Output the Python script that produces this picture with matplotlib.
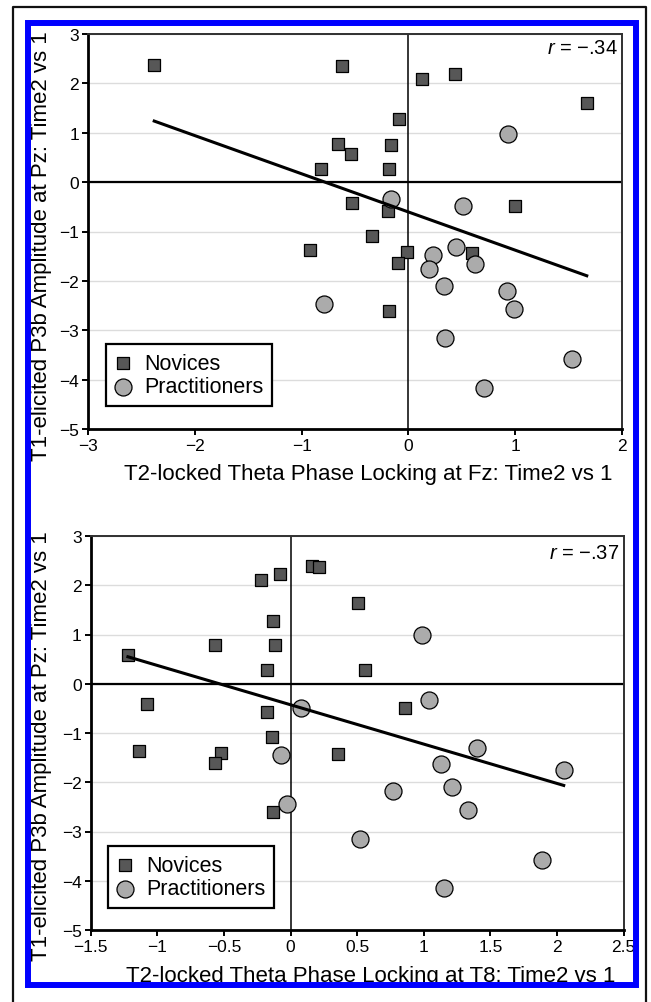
import numpy as np
import matplotlib
matplotlib.use('Agg')
import matplotlib.pyplot as plt
from matplotlib.patches import Rectangle
from matplotlib.lines import Line2D
from matplotlib.ticker import FuncFormatter, MultipleLocator

plt.rcParams['font.family'] = ['Liberation Sans', 'DejaVu Sans']
plt.rcParams['mathtext.fontset'] = 'custom'
plt.rcParams['mathtext.it'] = 'Liberation Sans:italic'
plt.rcParams['mathtext.rm'] = 'Liberation Sans'

# --- data ---
# top panel: theta phase locking at Fz
fz_nov_x = [-2.38, -0.62, 0.13, 0.44, 1.67, -0.09, -0.66, -0.54, -0.16, -0.82,
            -0.18, -0.53, -0.19, 1.00, -0.34, -0.92, -0.01, -0.10, 0.60, -0.18]
fz_nov_y = [2.37, 2.35, 2.09, 2.20, 1.60, 1.27, 0.78, 0.57, 0.76, 0.27,
            0.27, -0.42, -0.59, -0.48, -1.09, -1.37, -1.42, -1.63, -1.44, -2.61]
fz_pra_x = [0.93, -0.16, 0.51, 0.45, 0.23, 0.19, 0.62, 0.33, 0.92, 0.99,
            -0.79, 0.34, 1.53, 0.71]
fz_pra_y = [0.98, -0.34, -0.48, -1.32, -1.47, -1.76, -1.65, -2.11, -2.20, -2.57,
            -2.46, -3.16, -3.59, -4.16]

# bottom panel: theta phase locking at T8
t8_nov_x = [-0.22, -0.08, 0.16, 0.21, 0.51, -0.13, -0.57, -0.12, -1.22, -0.18,
            0.56, -1.08, -0.18, 0.86, -0.14, -1.14, -0.52, -0.57, 0.36, -0.13]
t8_nov_y = [2.11, 2.23, 2.40, 2.37, 1.63, 1.27, 0.79, 0.78, 0.59, 0.28,
            0.28, -0.42, -0.58, -0.49, -1.09, -1.36, -1.40, -1.61, -1.42, -2.61]
t8_pra_x = [0.99, 1.04, 0.08, 1.40, -0.07, 1.13, 2.05, 1.21, 0.77, 1.33,
            -0.03, 0.52, 1.89, 1.15]
t8_pra_y = [0.99, -0.34, -0.49, -1.30, -1.44, -1.63, -1.76, -2.09, -2.18, -2.56,
            -2.44, -3.15, -3.58, -4.15]

ylab = 'T1-elicited P3b Amplitude at Pz: Time2 vs 1'


def fmt(v, pos):
    return ('%g' % v).replace('-', '\u2212')


def panel(ax, nx, ny, px, py, xlim, xstep, xlab, rtxt, legpos, rpos, ylpos, xly):
    ax.set_xlim(*xlim)
    ax.set_ylim(-5, 3)
    for yy in range(-5, 4):
        ax.axhline(yy, color='#dcdcdc', lw=1, zorder=0)
    ax.axhline(0, color='black', lw=1.6, zorder=1)
    ax.axvline(0, color='black', lw=1.1, zorder=1)

    # regression over all points
    xs = np.array(nx + px)
    ys = np.array(ny + py)
    k, b = np.polyfit(xs, ys, 1)
    lx = np.array([xs.min(), xs.max()])
    ax.plot(lx, k * lx + b, color='black', lw=2.2, zorder=4)

    ax.scatter(nx, ny, marker='s', s=80, c='#575757', edgecolors='black',
               linewidths=0.9, zorder=3, label='Novices')
    ax.scatter(px, py, marker='o', s=150, c='#ababab', edgecolors='black',
               linewidths=0.9, zorder=3, label='Practitioners')

    ax.xaxis.set_major_locator(MultipleLocator(xstep))
    ax.yaxis.set_major_locator(MultipleLocator(1))
    ax.xaxis.set_major_formatter(FuncFormatter(fmt))
    ax.yaxis.set_major_formatter(FuncFormatter(fmt))
    ax.tick_params(direction='out', length=4.5, width=1.4, labelsize=12.5,
                   pad=1.8, color='black')
    for s in ['left', 'bottom']:
        ax.spines[s].set_linewidth(2.0)
        ax.spines[s].set_color('black')
    for s in ['top', 'right']:
        ax.spines[s].set_linewidth(1.4)
        ax.spines[s].set_color('#303030')

    ax.set_xlabel(xlab, fontsize=16)
    ax.xaxis.set_label_coords(0.525, xly)
    ax.set_ylabel(ylab, fontsize=16)
    ax.yaxis.set_label_coords(ylpos[0], ylpos[1])
    ax.text(rpos[0], rpos[1], rtxt, transform=ax.transAxes, ha='right',
            va='center', fontsize=14.5)
    leg = ax.legend(loc='lower left', bbox_to_anchor=legpos, borderaxespad=0,
                    fontsize=15.5, frameon=True, fancybox=False, edgecolor='black',
                    framealpha=1, handlelength=0.8, handletextpad=0.55,
                    borderpad=0.4, labelspacing=0.12, scatterpoints=1)
    leg.get_frame().set_linewidth(1.6)


fig = plt.figure(figsize=(6.51, 10.03), dpi=100)
W, H = 651.0, 1003.0

ax1 = fig.add_axes([88 / W, 1 - 430 / H, (622 - 88) / W, (430 - 35) / H])
panel(ax1, fz_nov_x, fz_nov_y, fz_pra_x, fz_pra_y, (-3, 2), 1,
      'T2-locked Theta Phase Locking at Fz: Time2 vs 1',
      '$r$ = \u2212.34', (0.034, 0.058), (0.993, 0.967), (-0.067, 0.465), -0.085)

ax2 = fig.add_axes([90.6 / W, 1 - 931 / H, (623.7 - 90.6) / W, (931 - 537) / H])
panel(ax2, t8_nov_x, t8_nov_y, t8_pra_x, t8_pra_y, (-1.5, 2.5), 0.5,
      'T2-locked Theta Phase Locking at T8: Time2 vs 1',
      '$r$ = \u2212.37', (0.033, 0.056), (0.992, 0.959), (-0.072, 0.47), -0.089)

# white margin outside the blue frame (clips the labels like the original)
for (x0, y0, x1, y1) in [(0, 0, 25, 1003), (639, 0, 651, 1003),
                         (0, 0, 651, 21), (0, 989, 651, 1003)]:
    fig.add_artist(Rectangle((x0 / W, 1 - y1 / H), (x1 - x0) / W, (y1 - y0) / H,
                             transform=fig.transFigure, facecolor='white',
                             edgecolor='none', zorder=10))

# blue frame
fig.add_artist(Rectangle((28 / W, 1 - 986 / H), (636 - 28) / W, (986 - 23.5) / H,
                         transform=fig.transFigure, facecolor='none',
                         edgecolor='#0000ff', lw=4.3, zorder=11))

# thin black outer frame (open at the bottom)
fig.add_artist(Line2D([13 / W, 13 / W, 646 / W, 646 / W], [0, 1 - 8 / H, 1 - 8 / H, 0],
                      transform=fig.transFigure, color='#111111', lw=1.6, zorder=12))

fig.savefig('out.png', dpi=100)
